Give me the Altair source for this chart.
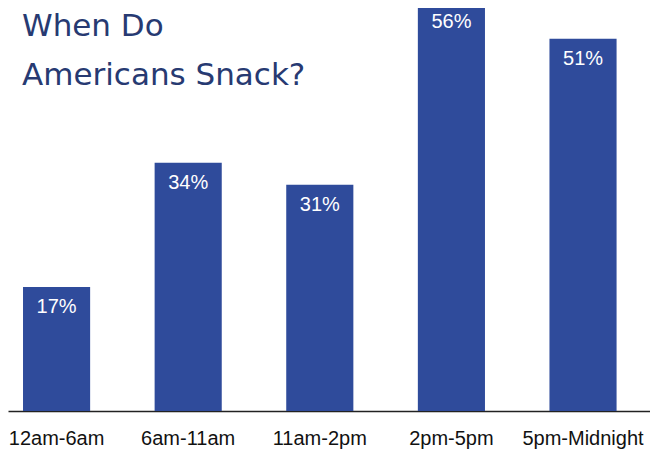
import altair as alt
import pandas as pd

categories = ["12am-6am", "6am-11am", "11am-2pm", "2pm-5pm", "5pm-Midnight"]
shares = [17, 34, 31, 56, 51]
labels = ["17%", "34%", "31%", "56%", "51%"]
title_lines = ["When Do", "Americans Snack?"]

df = pd.DataFrame({"slot": categories, "share": shares, "label": labels})
title_df = pd.DataFrame({"t": ["\n".join(title_lines)]})

x = alt.X(
    "slot:N",
    sort=categories,
    scale=alt.Scale(paddingInner=0.49, paddingOuter=0.184, align=0.31),
    axis=alt.Axis(
        title=None, labelAngle=0, ticks=False, domain=True,
        domainColor="#222222", domainWidth=1.5,
        labelFontSize=20, labelFont="Liberation Sans", labelColor="#111111",
        labelPadding=17,
    ),
)
y = alt.Y("share:Q", scale=alt.Scale(domain=[0, 55.2], nice=False, zero=True), axis=None)

bars = alt.Chart(df).mark_bar(color="#2f4b9b").encode(x=x, y=y)
text = alt.Chart(df).mark_text(
    color="white", font="Liberation Sans", fontSize=20, baseline="alphabetic", dy=26
).encode(x=x, y=y, text="label:N")
title = alt.Chart(title_df).mark_text(
    align="left", baseline="alphabetic", lineBreak="\n", lineHeight=49,
    fontSize=31, font="DejaVu Sans", color="#273a72"
).encode(x=alt.value(14), y=alt.value(28), text="t:N")

chart = alt.layer(bars, text, title).properties(
    width=642, height=403,
    autosize=alt.AutoSizeParams(type="none"),
    padding={"left": 0, "top": 0, "right": 0, "bottom": 38},
    background="white",
).configure_view(stroke=None)

chart.save("out.html", embed_options={"renderer": "svg", "actions": False})
